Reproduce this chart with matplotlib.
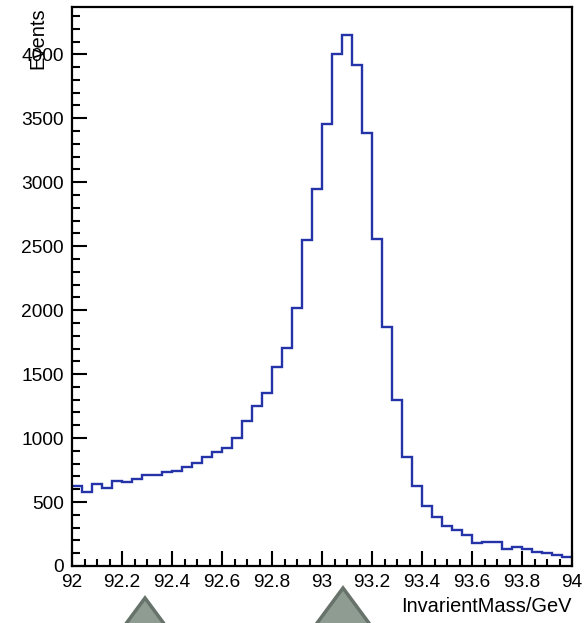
#!/usr/bin/env python3

import numpy as np
import matplotlib
matplotlib.use('Agg')
import matplotlib.pyplot as plt
from matplotlib.patches import Polygon
from matplotlib.ticker import MultipleLocator

plt.rcParams['font.family'] = ['Liberation Sans', 'DejaVu Sans']

# histogram range and per-bin counts (50 bins of 0.04 GeV)
mass_min, mass_max, n_bins = 92.0, 94.0, 50
counts = [625, 580, 638, 607, 664, 654, 682, 711, 711, 737,
          742, 776, 802, 854, 888, 924, 997, 1133, 1248, 1352,
          1552, 1701, 2013, 2550, 2948, 3458, 4005, 4150, 3914, 3385,
          2557, 1870, 1297, 852, 628, 469, 380, 312, 281, 242,
          177, 185, 190, 130, 151, 130, 107, 99, 86, 73]
x_ticks = [92, 92.2, 92.4, 92.6, 92.8, 93, 93.2, 93.4, 93.6, 93.8, 94]
x_tick_labels = ['92', '92.2', '92.4', '92.6', '92.8', '93', '93.2', '93.4', '93.6', '93.8', '94']
y_ticks = [0, 500, 1000, 1500, 2000, 2500, 3000, 3500, 4000]

W, H = 587, 623
fig = plt.figure(figsize=(W / 100, H / 100), dpi=100)
ax = fig.add_axes([72 / W, (H - 566) / H, 500 / W, 559 / H])

edges = np.linspace(mass_min, mass_max, n_bins + 1)
ax.stairs(counts, edges, baseline=None, color='#2433a8', linewidth=1.7)

ax.set_xlim(mass_min, mass_max)
ax.set_ylim(0, max(counts) * 1.053)

ax.set_xticks(x_ticks)
ax.set_xticklabels(x_tick_labels)
ax.set_yticks(y_ticks)
ax.xaxis.set_minor_locator(MultipleLocator(0.05))
ax.yaxis.set_minor_locator(MultipleLocator(100))
ax.tick_params(which='both', direction='in', top=False, right=False,
               width=1.5, labelsize=13.8, pad=6, colors='black')
ax.tick_params(which='major', length=10.8)
ax.tick_params(which='minor', length=5.4)
for sp in ax.spines.values():
    sp.set_linewidth(1.6)

ax.set_xlabel('InvarientMass/GeV', fontsize=14.4, loc='right')
ax.xaxis.set_label_coords(1.0, -0.055)
ax.xaxis.label.set_verticalalignment('top')
fig.text(38 / W, 1 - 7 / H, 'Events', rotation=90, ha='center', va='top', fontsize=14.5)

# grey arrow heads cut off at the bottom of the picture
for apex_x, apex_y, slope in [(145, 598, 0.74), (343, 588, 0.74)]:
    drop = H + 6 - apex_y
    pts = [(apex_x / W, 1 - apex_y / H),
           ((apex_x - slope * drop) / W, -6 / H),
           ((apex_x + slope * drop) / W, -6 / H)]
    fig.patches.append(Polygon(pts, closed=True, transform=fig.transFigure,
                               facecolor='#8f9c92', edgecolor='#66726a',
                               linewidth=2.5, clip_on=False))

plt.savefig('out.png', dpi=100)
